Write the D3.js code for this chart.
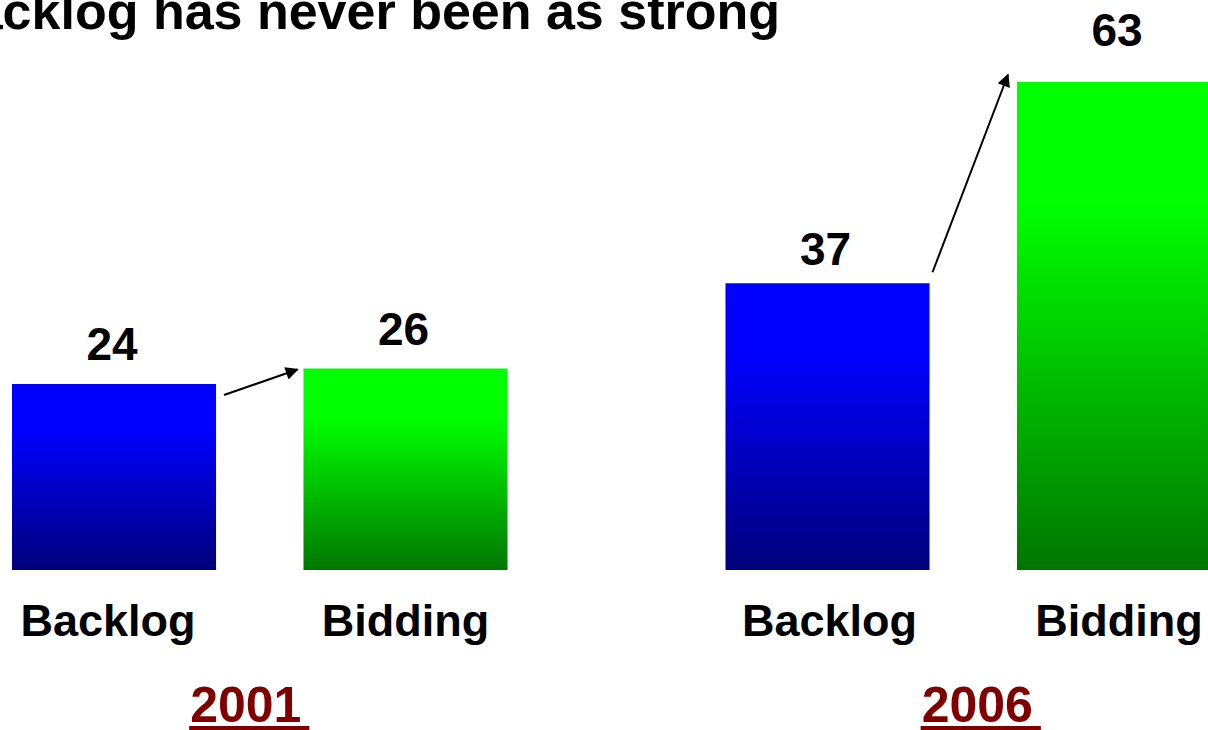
<!DOCTYPE html>
<html>
<head>
<meta charset="utf-8">
<script src="https://cdn.jsdelivr.net/npm/d3@7"></script>
<style>
  html, body { margin: 0; padding: 0; background: #fff; overflow: hidden; }
  svg { display: block; font-family: "Liberation Sans", Arial, Helvetica, sans-serif; }
</style>
</head>
<body>
<svg id="chart" width="1208" height="730"></svg>
<script>
const titleText = "Backlog has never been as strong";
const years = ["2001", "2006"];
const series = ["Backlog", "Bidding"];
const backlogValues = [24, 37];
const biddingValues = [26, 63];

const W = 1208, H = 730;
const svg = d3.select("#chart");

const defs = svg.append("defs");
function grad(id, top, bottom) {
  const g = defs.append("linearGradient").attr("id", id)
    .attr("x1", 0).attr("y1", 0).attr("x2", 0).attr("y2", 1);
  g.append("stop").attr("offset", "0%").attr("stop-color", top);
  g.append("stop").attr("offset", "25%").attr("stop-color", top);
  g.append("stop").attr("offset", "100%").attr("stop-color", bottom);
}
grad("gBlue", "#0000ff", "#00007a");
grad("gGreen", "#00ff00", "#007600");
const fills = { Backlog: "url(#gBlue)", Bidding: "url(#gGreen)" };

defs.append("marker").attr("id", "arrowHead")
  .attr("viewBox", "0 0 10 10").attr("refX", 9).attr("refY", 5)
  .attr("markerWidth", 8).attr("markerHeight", 6.5)
  .attr("markerUnits", "strokeWidth").attr("orient", "auto")
  .append("path").attr("d", "M0,0 L10,5 L0,10 z").attr("fill", "#000");

const x0 = d3.scaleBand().domain(years).range([12, 1221]).paddingInner(0.3055).paddingOuter(0);
const x1 = d3.scaleBand().domain(series).range([0, x0.bandwidth()]).paddingInner(0.30).paddingOuter(0);
const y = d3.scaleLinear().domain([0, 64]).range([570, 74]);

const data = [];
years.forEach((yr, i) => {
  data.push({ year: yr, s: "Backlog", v: backlogValues[i] });
  data.push({ year: yr, s: "Bidding", v: biddingValues[i] });
});

// Title (cropped at left and top, as in the slide)
svg.append("text")
  .attr("x", 780).attr("y", 29)
  .attr("text-anchor", "end")
  .attr("font-size", 52).attr("font-weight", "bold").attr("fill", "#000")
  .text(titleText);

// Bars
svg.selectAll("rect.bar").data(data).enter().append("rect")
  .attr("class", "bar")
  .attr("x", d => x0(d.year) + x1(d.s))
  .attr("y", d => y(d.v))
  .attr("width", x1.bandwidth())
  .attr("height", d => y(0) - y(d.v))
  .attr("fill", d => fills[d.s]);

// Value labels
svg.selectAll("text.val").data(data).enter().append("text")
  .attr("class", "val")
  .attr("x", d => x0(d.year) + x1(d.s) + x1.bandwidth() / 2 - 2)
  .attr("y", d => y(d.v) - (d.v > 30 ? 18 : 24) - (d.v > 60 ? 18 : 0))
  .attr("text-anchor", "middle")
  .attr("font-size", 46).attr("font-weight", "bold").attr("fill", "#000")
  .text(d => d.v);

// Category labels
const catDx = { "2001": -6, "2006": 2 };
svg.selectAll("text.cat").data(data).enter().append("text")
  .attr("class", "cat")
  .attr("x", d => x0(d.year) + x1(d.s) + x1.bandwidth() / 2 + (d.s === "Backlog" ? catDx[d.year] : 0))
  .attr("y", 636)
  .attr("text-anchor", "middle")
  .attr("font-size", 45).attr("font-weight", "bold").attr("fill", "#000")
  .text(d => d.s);

// Year labels with underline
const yearDx = { "2001": -14, "2006": 4 };
years.forEach(yr => {
  const cx = x0(yr) + x0.bandwidth() / 2 + yearDx[yr];
  const t = svg.append("text")
    .attr("x", cx).attr("y", 722)
    .attr("text-anchor", "middle")
    .attr("font-size", 50).attr("font-weight", "bold").attr("fill", "#800000")
    .text(yr);
  const bb = t.node().getBBox();
  svg.append("rect")
    .attr("x", bb.x - 1).attr("y", 726)
    .attr("width", bb.width + 9).attr("height", 4)
    .attr("fill", "#800000");
});

// Arrows from Backlog to Bidding
const arrowStartDy = [11, -11];
years.forEach((yr, i) => {
  const xs = x0(yr) + x1("Backlog") + x1.bandwidth() + (i === 0 ? 8 : 3);
  const ys = y(backlogValues[i]) + arrowStartDy[i];
  const xe = x0(yr) + x1("Bidding") - (i === 0 ? 6 : 9);
  const ye = y(biddingValues[i]) + (i === 0 ? 1 : -7);
  svg.append("line")
    .attr("x1", xs).attr("y1", ys).attr("x2", xe).attr("y2", ye)
    .attr("stroke", "#000").attr("stroke-width", 2)
    .attr("marker-end", "url(#arrowHead)");
});
</script>
</body>
</html>
